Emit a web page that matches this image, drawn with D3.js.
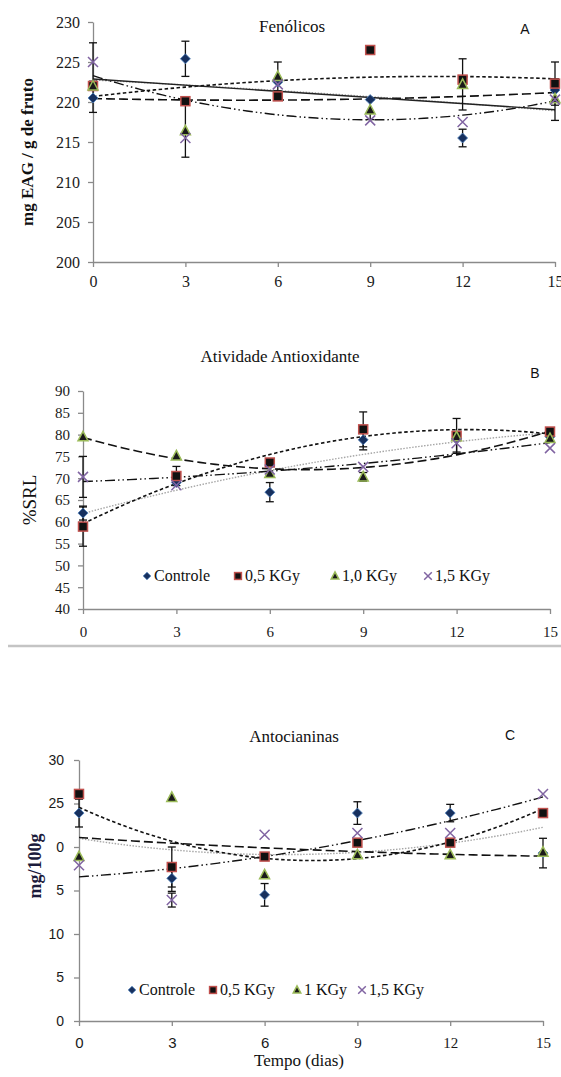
<!DOCTYPE html>
<html lang="pt">
<head>
<meta charset="utf-8">
<title>Fenólicos, Atividade Antioxidante, Antocianinas</title>
<script src="https://d3js.org/d3.v7.min.js"></script>
<style>
  body { margin: 0; background: #fff; }
  svg { display: block; }
  .axis path, .axis line { stroke: #8a8a8a; stroke-width: 1.3px; }
  .trend { fill: none; }
  .err { stroke: #111; stroke-width: 1.3px; }
</style>
</head>
<body>
<script>
var SERIF = '"Liberation Serif", "Times New Roman", serif';
var SANS = '"Liberation Sans", Arial, sans-serif';

// storage days
var days = [0, 3, 6, 9, 12, 15];

// A - Fenólicos (mg EAG / g de fruto); rows: Controle, 0,5, 1,0, 1,5 KGy
var fenValues = [
  [220.5, 225.4, 222.5, 220.3, 215.5, 221.5],
  [222.0, 220.1, 220.7, 226.5, 222.8, 222.3],
  [222.0, 216.4, 223.2, 219.0, 222.2, 220.4],
  [225.0, 215.5, 222.2, 217.7, 217.5, 220.3]
];
var fenErrors = [
  [1.8, 2.2, 0, 0, 1.1, 0],
  [0, 0, 0, 0, 0, 2.7],
  [0, 3.3, 1.8, 1.2, 3.2, 0],
  [2.4, 0, 0, 0, 0, 2.6]
];

// B - Atividade Antioxidante (%SRL)
var atvValues = [
  [62.0, 69.0, 66.8, 78.8, 79.0, 79.5],
  [58.9, 70.5, 73.6, 81.2, 79.7, 80.7],
  [79.5, 75.1, 71.1, 70.3, 79.5, 79.1],
  [70.3, 68.4, 72.0, 72.6, 78.0, 76.9]
];
var atvErrors = [
  [1.6, 0, 2.2, 2.3, 0, 0],
  [4.5, 2.2, 0, 4.0, 4.0, 0],
  [0, 0, 0, 1.0, 0, 0],
  [4.7, 0, 0, 0, 2.0, 0]
];

// C - Antocianinas (mg/100g)
var antValues = [
  [23.9, 16.4, 14.5, 23.9, 23.9, 19.3],
  [26.1, 17.7, 18.9, 20.5, 20.5, 23.9],
  [18.9, 25.7, 16.8, 19.1, 19.1, 19.4],
  [17.9, 13.9, 21.4, 21.6, 21.6, 26.1]
];
var antErrors = [
  [1.6, 1.5, 1.3, 1.3, 1.0, 1.7],
  [0, 2.3, 0, 0, 0, 0],
  [0, 0, 0, 0, 0, 0],
  [0, 0.8, 0, 0, 0, 0]
];

var fenTicks = [200, 205, 210, 215, 220, 225, 230];
var atvTicks = [40, 45, 50, 55, 60, 65, 70, 75, 80, 85, 90];
var antTicks = [0, 5, 10, 15, 20, 25, 30];
var antTickLabels = ["0", "5", "10", "5", "0", "25", "30"];   // as printed in the figure

var legendB = ["Controle", "0,5 KGy", "1,0 KGy", "1,5 KGy"];
var legendC = ["Controle", "0,5 KGy", "1 KGy", "1,5 KGy"];

var width = 561, height = 1077;

var svg = d3.select("body").append("svg")
    .attr("width", width)
    .attr("height", height);

// least squares polynomial fit (Excel-style trendline)
function polyfit(xs, ys, deg) {
  var n = deg + 1;
  var A = [], b = [];
  for (var i = 0; i < n; i++) {
    A.push([]);
    for (var j = 0; j < n; j++) A[i].push(d3.sum(xs, x => Math.pow(x, i + j)));
    b.push(d3.sum(xs, (x, k) => ys[k] * Math.pow(x, i)));
  }
  for (var c = 0; c < n; c++) {
    for (var r = c + 1; r < n; r++) {
      var f = A[r][c] / A[c][c];
      for (var k = c; k < n; k++) A[r][k] -= f * A[c][k];
      b[r] -= f * b[c];
    }
  }
  var coef = new Array(n);
  for (var r2 = n - 1; r2 >= 0; r2--) {
    var s = b[r2];
    for (var k2 = r2 + 1; k2 < n; k2++) s -= A[r2][k2] * coef[k2];
    coef[r2] = s / A[r2][r2];
  }
  return x => coef.reduce((acc, cf, p) => acc + cf * Math.pow(x, p), 0);
}

var trendStyles = [
  { stroke: "#a6a6a6", width: 1.4, dash: "1.5,1.5" },
  { stroke: "#111", width: 1.6, dash: "3.5,2.5" },
  { stroke: "#111", width: 1.6, dash: "9,4" },
  { stroke: "#111", width: 1.4, dash: "10,3,1.5,3,1.5,3" }
];

function drawMarker(g, k, r) {
  if (k === 0) {
    g.append("path").attr("d", `M0,${-r}L${r},0L0,${r}L${-r},0Z`)
      .attr("fill", "#17305e").attr("stroke", "#4f81bd").attr("stroke-width", 0.8);
  } else if (k === 1) {
    var h = r * 0.9;
    g.append("rect").attr("x", -h).attr("y", -h).attr("width", 2 * h).attr("height", 2 * h)
      .attr("fill", "#111").attr("stroke", "#c0504d").attr("stroke-width", 1.5);
  } else if (k === 2) {
    g.append("path").attr("d", `M0,${-r * 1.1}L${r},${r * 0.8}L${-r},${r * 0.8}Z`)
      .attr("fill", "#1a1a1a").attr("stroke", "#9bbb59").attr("stroke-width", 1.5);
  } else {
    g.append("path").attr("d", `M${-r},${-r}L${r},${r}M${-r},${r}L${r},${-r}`)
      .attr("fill", "none").attr("stroke", "#8064a2").attr("stroke-width", 1.5);
  }
}

function drawPanel(cfg) {
  var x = d3.scaleLinear().domain([0, 15]).range(cfg.xr);
  var y = d3.scaleLinear().domain([cfg.ticks[0], cfg.ticks[cfg.ticks.length - 1]]).range(cfg.yr);
  var g = svg.append("g");

  var xAxis = g.append("g").attr("class", "axis")
      .attr("transform", `translate(0,${cfg.yr[0]})`)
      .call(d3.axisBottom(x).tickValues(days).tickSize(5).tickSizeOuter(0).tickPadding(cfg.xPad));
  xAxis.attr("font-family", null);
  xAxis.selectAll("text")
      .style("font-size", cfg.xFont + "px")
      .style("font-family", (d, i) => cfg.xSans && i < 3 ? SANS : SERIF)
      .style("fill", "#1a1a1a");

  var yAxis = g.append("g").attr("class", "axis")
      .attr("transform", `translate(${cfg.xr[0]},0)`)
      .call(d3.axisLeft(y).tickValues(cfg.ticks).tickSize(5).tickSizeOuter(0).tickPadding(cfg.yPad)
        .tickFormat((d, i) => cfg.tickLabels ? cfg.tickLabels[i] : d));
  yAxis.attr("font-family", null);
  yAxis.selectAll("text")
      .style("font-size", cfg.yFont + "px")
      .style("font-family", cfg.ySans ? SANS : SERIF)
      .style("fill", "#1a1a1a");

  var samples = d3.range(0, 15.001, 0.25);
  var line = d3.line().x(d => x(d[0])).y(d => y(d[1]));

  // trendlines
  cfg.values.forEach(function(vals, k) {
    var fit = polyfit(days, vals, 2);
    var st = trendStyles[k];
    g.append("path").attr("class", "trend")
      .attr("d", line(samples.map(t => [t, fit(t)])))
      .attr("stroke", st.stroke).attr("stroke-width", st.width)
      .attr("stroke-dasharray", st.dash);
  });
  if (cfg.linear) {
    var lin = polyfit(days, cfg.values[0], 1);
    g.append("path").attr("class", "trend")
      .attr("d", line([[0, lin(0)], [15, lin(15)]]))
      .attr("stroke", "#222").attr("stroke-width", 1.4);
  }

  // error bars
  cfg.values.forEach(function(vals, k) {
    vals.forEach(function(v, i) {
      var e = cfg.errors[k][i];
      if (!e) return;
      var cx = x(days[i]);
      g.append("line").attr("class", "err").attr("x1", cx).attr("x2", cx)
        .attr("y1", y(v - e)).attr("y2", y(v + e));
      [v - e, v + e].forEach(function(w) {
        g.append("line").attr("class", "err").attr("x1", cx - 4).attr("x2", cx + 4)
          .attr("y1", y(w)).attr("y2", y(w));
      });
    });
  });

  // markers
  cfg.values.forEach(function(vals, k) {
    vals.forEach(function(v, i) {
      var m = g.append("g").attr("transform", `translate(${x(days[i])},${y(v)})`);
      drawMarker(m, k, 5);
    });
  });

  // title and letter
  g.append("text").attr("x", cfg.titleX).attr("y", cfg.titleY)
    .attr("text-anchor", "middle")
    .style("font-family", SERIF).style("font-size", "17px").style("fill", "#111")
    .text(cfg.title);
  g.append("text").attr("x", cfg.letterX).attr("y", cfg.letterY)
    .attr("text-anchor", "middle")
    .style("font-family", SANS).style("font-size", "14px").style("fill", "#111")
    .text(cfg.letter);

  // y label
  g.append("text")
    .attr("transform", `translate(${cfg.ylabX},${cfg.ylabY}) rotate(-90)`)
    .attr("text-anchor", "middle").attr("dy", "0.35em")
    .style("font-family", SERIF)
    .style("font-size", cfg.ylabSize + "px").style("font-weight", cfg.ylabBold ? "bold" : "normal")
    .style("fill", cfg.ylabColor || "#111")
    .text(cfg.ylab);

  // legend
  if (cfg.legend) {
    cfg.legend.forEach(function(name, k) {
      var lg = g.append("g").attr("transform", `translate(${cfg.legendX[k]},${cfg.legendY})`);
      drawMarker(lg.append("g").attr("transform", "translate(0,-5)"), k, 3.8);
      lg.append("text").attr("x", 7).attr("y", 0)
        .style("font-family", SERIF).style("font-size", "16px").style("fill", "#111")
        .text(name);
    });
  }
}

drawPanel({
  values: fenValues, errors: fenErrors, ticks: fenTicks,
  xr: [93, 555], yr: [262, 22], xFont: 16, yFont: 16, xPad: 9, yPad: 8,
  linear: true,
  title: "Fenólicos", titleX: 292, titleY: 32, letter: "A", letterX: 525, letterY: 34,
  ylab: "mg EAG / g de fruto", ylabX: 27, ylabY: 152, ylabSize: 17, ylabBold: true
});

drawPanel({
  values: atvValues, errors: atvErrors, ticks: atvTicks,
  xr: [83, 550], yr: [609, 391], xFont: 15, yFont: 15, xPad: 12, yPad: 8,
  title: "Atividade Antioxidante", titleX: 280, titleY: 362, letter: "B", letterX: 535, letterY: 378,
  ylab: "%SRL", ylabX: 29, ylabY: 500, ylabSize: 19, ylabBold: false,
  legend: legendB, legendX: [147, 238, 335, 428], legendY: 581
});

drawPanel({
  values: antValues, errors: antErrors, ticks: antTicks, tickLabels: antTickLabels,
  xr: [79, 543], yr: [1021, 760], xFont: 15, yFont: 14, xPad: 11, yPad: 10,
  ySans: true, xSans: true,
  title: "Antocianinas", titleX: 294, titleY: 742, letter: "C", letterX: 510, letterY: 740,
  ylab: "mg/100g", ylabX: 35, ylabY: 866, ylabSize: 18, ylabBold: true, ylabColor: "#1c1c3c",
  legend: legendC, legendX: [132, 213, 297, 362], legendY: 995
});

// separator rule between B and C
svg.append("line").attr("x1", 8).attr("x2", width).attr("y1", 646).attr("y2", 646)
  .attr("stroke", "#c4c4c4").attr("stroke-width", 2.5);

svg.append("text").attr("x", 299).attr("y", 1066)
  .attr("text-anchor", "middle")
  .style("font-family", SERIF).style("font-size", "17px").style("fill", "#111")
  .text("Tempo (dias)");
</script>
</body>
</html>
